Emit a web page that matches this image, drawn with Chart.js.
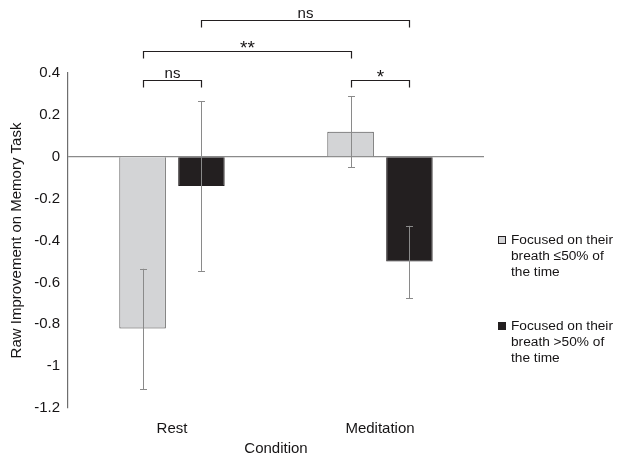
<!DOCTYPE html>
<html>
<head>
<meta charset="utf-8">
<script src="https://cdn.jsdelivr.net/npm/chart.js@4"></script>
<style>
  html, body { margin: 0; padding: 0; background: #fff; }
  #wrap { width: 623px; height: 457px; }
</style>
</head>
<body>
<div id="wrap"><canvas id="grafico"></canvas></div>
<script>
// data
const categories = ["Rest", "Meditation"];
const seriesNames = ["Focused on their breath ≤50% of the time", "Focused on their breath >50% of the time"];
const legendLines = [["Focused on their", "breath ≤50% of", "the time"], ["Focused on their", "breath >50% of", "the time"]];
const lowFocus = [-0.82, 0.12];
const highFocus = [-0.14, -0.50];
const lowFocusErrLow = [-1.11, -0.05];
const lowFocusErrHigh = [-0.535, 0.29];
const highFocusErrLow = [-0.545, -0.675];
const highFocusErrHigh = [0.265, -0.33];
const yTicks = [0.4, 0.2, 0, -0.2, -0.4, -0.6, -0.8, -1, -1.2];

// significance brackets: [dataset, index] of each end, level in axis units
const bracketLabels = ["ns", "**", "ns", "*"];
const bracketFrom = [[0, 0], [0, 0], [1, 0], [0, 1]];
const bracketTo = [[1, 0], [0, 1], [1, 1], [1, 1]];
const bracketLevels = [0.367, 0.507, 0.653, 0.367];

const FONT = "'Liberation Sans', Arial, sans-serif";
const TEXT = "#161415";
const LIGHT = "#d3d4d6";
const DARK = "#231f20";

const errLows = [lowFocusErrLow, highFocusErrLow];
const errHighs = [lowFocusErrHigh, highFocusErrHigh];

const extras = {
  id: "extras",
  afterDatasetsDraw(chart) {
    const c = chart.ctx;
    const y = chart.scales.y;
    // error bars
    c.save();
    c.strokeStyle = "#8a8a8a";
    c.lineWidth = 1;
    for (let d = 0; d < 2; d++) {
      const meta = chart.getDatasetMeta(d);
      meta.data.forEach((bar, i) => {
        const x = Math.round(bar.x) + 0.5;
        const y1 = y.getPixelForValue(errLows[d][i]);
        const y2 = y.getPixelForValue(errHighs[d][i]);
        c.beginPath();
        c.moveTo(x, y1); c.lineTo(x, y2);
        c.moveTo(x - 3.5, Math.round(y1) + 0.5); c.lineTo(x + 3.5, Math.round(y1) + 0.5);
        c.moveTo(x - 3.5, Math.round(y2) + 0.5); c.lineTo(x + 3.5, Math.round(y2) + 0.5);
        c.stroke();
      });
    }
    c.restore();
  },
  afterDraw(chart) {
    const c = chart.ctx;
    const y = chart.scales.y;
    c.save();
    // brackets
    c.strokeStyle = "#231f20";
    c.lineWidth = 1.2;
    c.fillStyle = TEXT;
    c.textAlign = "center";
    bracketLabels.forEach((lab, k) => {
      const a = chart.getDatasetMeta(bracketFrom[k][0]).data[bracketFrom[k][1]];
      const b = chart.getDatasetMeta(bracketTo[k][0]).data[bracketTo[k][1]];
      const xa = Math.round(a.x) + 0.5, xb = Math.round(b.x) + 0.5;
      const yy = Math.round(y.getPixelForValue(bracketLevels[k])) + 0.5;
      c.beginPath();
      c.moveTo(xa, yy + 7); c.lineTo(xa, yy); c.lineTo(xb, yy); c.lineTo(xb, yy + 7);
      c.stroke();
      if (lab.startsWith("*")) {
        c.font = "19px " + FONT;
        c.textBaseline = "middle";
        c.fillText(lab, (xa + xb) / 2, yy - 3);
      } else {
        c.font = "15px " + FONT;
        c.textBaseline = "middle";
        c.fillText(lab, (xa + xb) / 2, yy - 7);
      }
    });
    // legend
    c.textAlign = "left";
    c.textBaseline = "middle";
    c.font = "13.7px " + FONT;
    const tops = [240, 326];
    legendLines.forEach((lines, d) => {
      const ty = tops[d];
      c.fillStyle = d === 0 ? LIGHT : DARK;
      c.fillRect(498, ty - 4, 8, 8);
      c.strokeStyle = "#231f20";
      c.lineWidth = 1;
      c.strokeRect(498.5, ty - 3.5, 7, 7);
      c.fillStyle = TEXT;
      lines.forEach((t, j) => c.fillText(t, 511, ty + j * 16));
    });
    c.restore();
  }
};

new Chart(document.getElementById("grafico"), {
  type: "bar",
  data: {
    labels: categories,
    datasets: [
      { label: seriesNames[0], data: lowFocus, backgroundColor: LIGHT, borderColor: "#4a4a4a", borderWidth: 1 },
      { label: seriesNames[1], data: highFocus, backgroundColor: DARK, borderColor: DARK, borderWidth: 1 }
    ]
  },
  options: {
    responsive: true,
    maintainAspectRatio: false,
    animation: false,
    layout: { padding: { top: 73, right: 139, left: 0, bottom: 0 } },
    categoryPercentage: 0.566,
    barPercentage: 0.79,
    plugins: { legend: { display: false }, tooltip: { enabled: false } },
    scales: {
      x: {
        grid: { display: false },
        border: { display: false },
        ticks: { color: TEXT, font: { family: FONT, size: 15 }, padding: 4 },
        title: { display: true, text: "Condition", color: TEXT, font: { family: FONT, size: 15, lineHeight: 1.05 }, padding: 0 },
        afterFit(s) { s.height = 49; }
      },
      y: {
        min: -1.2,
        max: 0.4,
        afterBuildTicks(s) { s.ticks = yTicks.map(v => ({ value: v })); },
        grid: {
          drawTicks: false,
          color: ctx => (ctx.tick && ctx.tick.value === 0 ? "#8a8a8a" : "rgba(0,0,0,0)"),
          lineWidth: 1.2
        },
        border: { display: true, color: "#6e6e6e", width: 1.2 },
        ticks: {
          color: TEXT,
          font: { family: FONT, size: 15 },
          padding: 8,
          callback: v => String(Number(v.toFixed(1)))
        },
        title: { display: true, text: "Raw Improvement on Memory Task", color: TEXT, font: { family: FONT, size: 15 }, padding: { top: 8, bottom: 0 } },
        afterFit(s) { s.width = 68; }
      }
    }
  },
  plugins: [extras]
});
</script>
</body>
</html>
